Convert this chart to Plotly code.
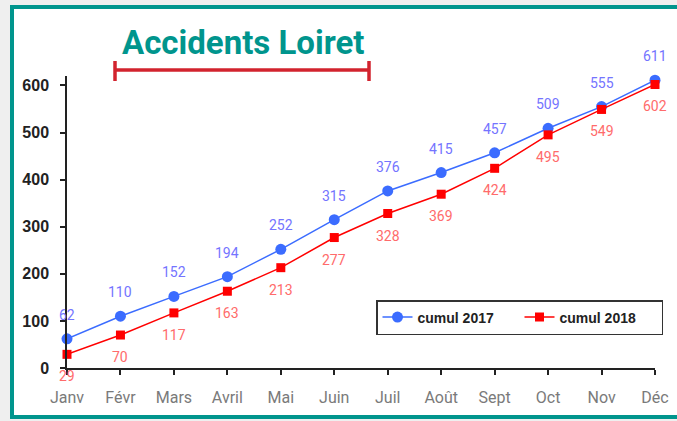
import plotly.graph_objects as go

months = ["Janv", "Févr", "Mars", "Avril", "Mai", "Juin", "Juil", "Août", "Sept", "Oct", "Nov", "Déc"]
cumul_2017 = [62, 110, 152, 194, 252, 315, 376, 415, 457, 509, 555, 611]
cumul_2018 = [29, 70, 117, 163, 213, 277, 328, 369, 424, 495, 549, 602]
y_ticks = [0, 100, 200, 300, 400, 500, 600]

W, H = 677, 421
def px(x):
    return x / W
def py(y):
    return 1 - y / H

NARROW = "Roboto, Liberation Sans Narrow, sans-serif"
BOLD = "Liberation Sans, Arial, sans-serif"

fig = go.Figure()
fig.add_trace(go.Scatter(
    x=months, y=cumul_2017, name="cumul 2017", mode="lines+markers",
    line=dict(color="#3b6cff", width=1.5),
    marker=dict(symbol="circle", size=11, color="#3b6cff"),
    cliponaxis=False,
))
fig.add_trace(go.Scatter(
    x=months, y=cumul_2018, name="cumul 2018", mode="lines+markers",
    line=dict(color="#ff0000", width=1.5),
    marker=dict(symbol="square", size=9, color="#ff0000"),
    cliponaxis=False,
))

annotations = [dict(
    text="<b>Accidents Loiret</b>", xref="paper", yref="paper",
    x=px(243), y=py(42), xanchor="center", yanchor="middle", showarrow=False,
    font=dict(family=NARROW, size=33, color="#00958d"),
)]
for m, v in zip(months, cumul_2017):
    annotations.append(dict(x=m, y=v, xref="x", yref="y", text=str(v), showarrow=False,
                            yshift=24, font=dict(family=NARROW, size=14, color="#7474ff")))
for m, v in zip(months, cumul_2018):
    annotations.append(dict(x=m, y=v, xref="x", yref="y", text=str(v), showarrow=False,
                            yshift=-22, font=dict(family=NARROW, size=14, color="#ff6b6b")))

shapes = [
    dict(type="rect", xref="paper", yref="paper", layer="below",
         x0=px(12), x1=px(700), y0=py(417), y1=py(7),
         fillcolor="white", line=dict(color="#00958d", width=4)),
    dict(type="line", xref="paper", yref="paper",
         x0=px(114), x1=px(370), y0=py(70), y1=py(70),
         line=dict(color="#d2232e", width=3.5)),
    dict(type="line", xref="paper", yref="paper",
         x0=px(115), x1=px(115), y0=py(61), y1=py(81),
         line=dict(color="#d2232e", width=3.5)),
    dict(type="line", xref="paper", yref="paper",
         x0=px(369), x1=px(369), y0=py(61), y1=py(81),
         line=dict(color="#d2232e", width=3.5)),
]

fig.update_layout(
    width=W, height=H,
    margin=dict(l=0, r=0, t=0, b=0, autoexpand=False),
    paper_bgcolor="#efefef",
    plot_bgcolor="rgba(0,0,0,0)",
    showlegend=True,
    shapes=shapes,
    annotations=annotations,
    legend=dict(
        orientation="h", x=px(376), y=py(300), xanchor="left", yanchor="top",
        bgcolor="white", bordercolor="#333333", borderwidth=1.5,
        font=dict(family=BOLD, size=14, color="#222222", weight="bold"),
        entrywidth=97, entrywidthmode="pixels",
        tracegroupgap=0,
    ),
    xaxis=dict(
        domain=[px(67), px(655)], range=[0, 11], automargin=False,
        showline=True, linecolor="#222222", linewidth=1.5,
        ticks="outside", ticklen=5, tickcolor="#222222", tickwidth=1.5,
        showgrid=False, zeroline=False,
        tickfont=dict(family=NARROW, size=16, color="#7a7a7a"),
        ticklabelstandoff=9,
        anchor="y",
    ),
    yaxis=dict(
        domain=[py(368), py(76)], range=[0, 620], automargin=False,
        tickvals=y_ticks,
        showline=True, linecolor="#222222", linewidth=1.5,
        ticks="outside", ticklen=5, tickcolor="#222222", tickwidth=1.5,
        showgrid=False, zeroline=False,
        tickfont=dict(family=BOLD, size=16, color="#222222", weight="bold"),
        ticklabelstandoff=8,
        anchor="x",
    ),
)

fig.write_html("out.html", config={"displayModeBar": False},
               post_script="document.body.style.margin='0';document.body.style.overflow='hidden';")
